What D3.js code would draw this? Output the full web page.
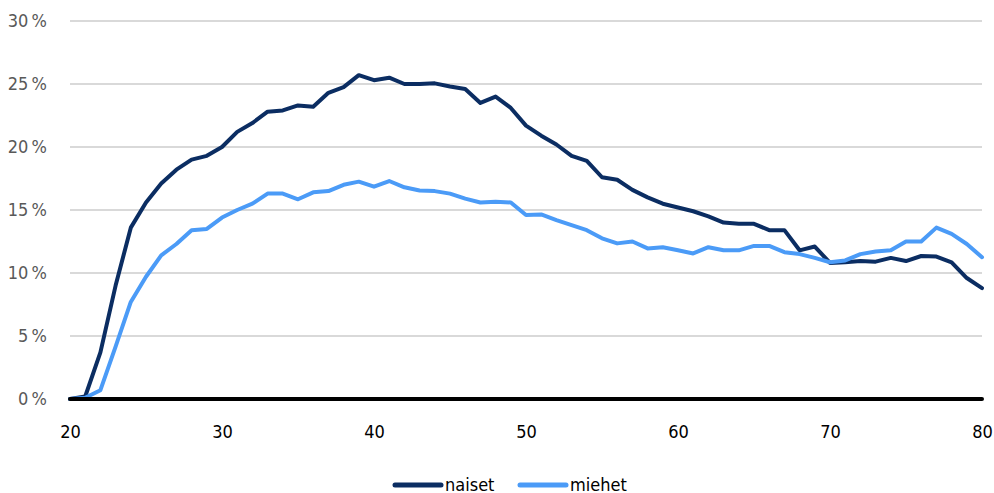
<!DOCTYPE html>
<html><head><meta charset="utf-8">
<script src="https://cdn.jsdelivr.net/npm/d3@7"></script>
<style>
html,body{margin:0;padding:0;background:#fff;}
svg{display:block;}
text{font-family:"Liberation Sans Narrow","DejaVu Sans Condensed","Open Sans",sans-serif;}
</style></head>
<body>
<svg id="c" width="994" height="493"></svg>
<script>
const ages = d3.range(20, 81);
const naiset = [0,0.2,3.7,9.0,13.6,15.6,17.1,18.2,19.0,19.3,20.0,21.2,21.9,22.8,22.9,23.3,23.2,24.3,24.75,25.7,25.3,25.5,25.0,25.0,25.05,24.8,24.6,23.5,24.0,23.1,21.7,20.9,20.2,19.3,18.9,17.6,17.4,16.6,16.0,15.5,15.2,14.9,14.5,14.0,13.9,13.9,13.4,13.4,11.8,12.1,10.8,10.85,10.95,10.9,11.2,10.95,11.35,11.3,10.85,9.6,8.8];
const miehet = [0,0.1,0.7,4.15,7.7,9.7,11.4,12.3,13.4,13.5,14.4,15.0,15.5,16.3,16.3,15.85,16.4,16.5,17.0,17.25,16.85,17.3,16.8,16.55,16.5,16.3,15.9,15.6,15.65,15.6,14.6,14.65,14.2,13.8,13.4,12.75,12.35,12.5,11.95,12.05,11.8,11.55,12.05,11.8,11.8,12.15,12.15,11.65,11.5,11.2,10.85,11.0,11.5,11.7,11.8,12.5,12.5,13.6,13.1,12.3,11.25];
const yTicks = [0,5,10,15,20,25,30];
const xTicks = [20,30,40,50,60,70,80];
const seriesNames = ["naiset","miehet"];
const colors = ["#0b2d62","#4b9bf7"];

const svg = d3.select("#c");
const x = d3.scaleLinear().domain([20,80]).range([70,982]);
const y = d3.scaleLinear().domain([0,30]).range([399,21]);

// gridlines
svg.append("g").selectAll("line").data(yTicks.filter(d=>d>0)).join("line")
  .attr("x1",x(20)).attr("x2",x(80))
  .attr("y1",d=>y(d)).attr("y2",d=>y(d))
  .attr("stroke","#d9d9d9").attr("stroke-width",2);

// y labels
const yAxis = d3.axisLeft(y).tickValues(yTicks).tickSize(0).tickPadding(0)
  .tickFormat(d=>d+"\u202F%");
const gy = svg.append("g").attr("transform","translate(47,0)").call(yAxis);
gy.select(".domain").remove();
gy.selectAll("text").attr("fill","#595959").style("font-size","18px").attr("dy","0.32em");

// x labels
const xAxis = d3.axisBottom(x).tickValues(xTicks).tickSize(0).tickPadding(0).tickFormat(d3.format("d"));
const gx = svg.append("g").attr("transform","translate(0,425)").call(xAxis);
gx.select(".domain").remove();
gx.selectAll("text").attr("fill","#000").style("font-size","18px").attr("dy","0.71em");

// lines
const line = d3.line().x((d,i)=>x(ages[i])).y(d=>y(d)).curve(d3.curveLinear);
[naiset, miehet].forEach((s,k)=>{
  svg.append("path").datum(s).attr("d",line)
    .attr("fill","none").attr("stroke",colors[k]).attr("stroke-width",4)
    .attr("stroke-linejoin","round").attr("stroke-linecap","round");
});

// zero axis line
svg.append("line").attr("x1",x(20)).attr("x2",x(80)).attr("y1",y(0)).attr("y2",y(0))
  .attr("stroke","#000").attr("stroke-width",4).attr("stroke-linecap","round");

// legend
const legX = [395, 520];
const lg = svg.append("g");
seriesNames.forEach((n,k)=>{
  lg.append("line").attr("x1",legX[k]).attr("x2",legX[k]+46).attr("y1",485).attr("y2",485)
    .attr("stroke",colors[k]).attr("stroke-width",5).attr("stroke-linecap","round");
  lg.append("text").attr("x",legX[k]+50).attr("y",485).attr("dy","0.35em")
    .style("font-size","18px").attr("fill","#000").text(n);
});
</script>
</body></html>
